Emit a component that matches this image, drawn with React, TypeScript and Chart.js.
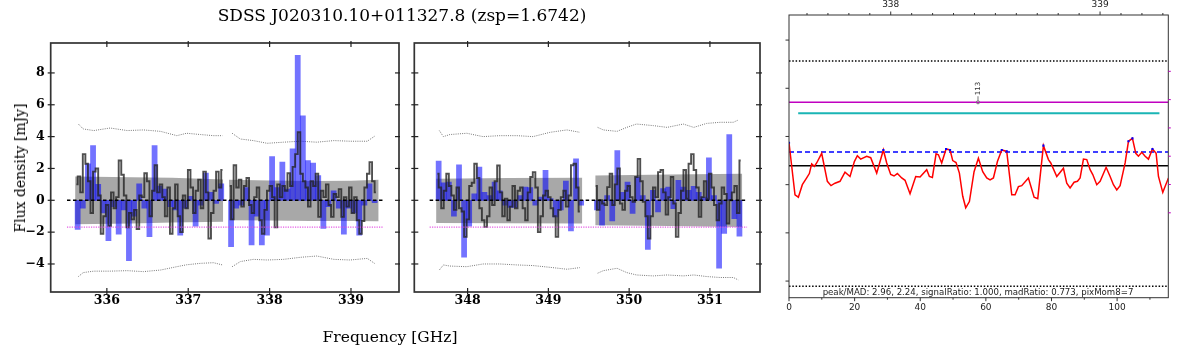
import React, { useEffect, useRef } from 'react';
import { Chart, registerables } from 'chart.js';

Chart.register(...registerables);

// ================= TEXT =================
const TITLE = 'SDSS J020310.10+011327.8 (zsp=1.6742)';
const X_TITLE = 'Frequency [GHz]';
const Y_TITLE = 'Flux density [mJy]';
const STATS_TEXT = 'peak/MAD: 2.96, 2.24, signalRatio: 1.000, madRatio: 0.773, pixMom8=7';
const LINE_ID = '113';

const SERIF = '"DejaVu Serif", serif';
const SANS = '"DejaVu Sans", sans-serif';

// ================= SPECTRA (left & middle panels) =================
const STEP_GHZ = 0.0315; // width of one plotted spectral step
const BIN_GHZ = 0.063; // width of one binned (blue) step

const Y_TICKS = [-4, -2, 0, 2, 4, 6, 8];
const LEFT_X_TICKS = [336, 337, 338, 339];
const MID_X_TICKS = [348, 349, 350, 351];
const ZERO_LEVEL = 0;
const LIMIT_LEVEL = -1.68;
const LEFT_REF_X = [335.51, 339.4];
const MID_REF_X = [347.53, 351.46];

// --- segment A ---
const startA = 335.61;
const grayA = [1.0, 1.5, 0.5, 2.9, 2.3, 1.2, -0.8, 1.8, 2.0, 0.3, -2.1, -1.0, -0.3, -1.6, 0.5, -0.5, 0.2, 2.5, 1.6, 0.3, -1.7, -0.8, -1.2, -0.6, -1.8, 0.3, 0.2, 1.7, 1.2, -1.0, 0.6, 2.2, 0.5, 1.0, 0.2, -1.0, 0.8, -2.1, -0.5, 1.0, -1.0, -2.0, 0.3, -0.5, 1.9, 0.8, -0.8, 0.6, 1.3, -0.5, 1.8, 0.5, -2.4, -0.8, 0.6, 1.8, 0.8, 1.9];
const binsA = [-1.83, -0.5, 2.29, 3.44, 1.0, -0.8, -2.54, -0.4, -2.13, -0.6, -3.79, -1.0, 1.04, -0.5, -2.29, 3.44, 0.9, 0.7, -0.4, -0.6, -2.19, -0.5, 0.25, -1.63, -0.3, 1.71, 0.5, -0.2, 1.04];
const bandFreqA = [335.61, 336.3, 336.8, 337.43];
const bandHiA = [1.5, 1.45, 1.42, 1.3];
const bandLoA = [-1.5, -1.45, -1.4, -1.35];
const envFreqA = [335.65, 335.71, 335.84, 336.04, 336.25, 336.45, 336.66, 336.86, 336.98, 337.15, 337.31, 337.42];
const envHiA = [4.79, 4.48, 4.38, 4.54, 4.38, 4.42, 4.33, 4.06, 4.21, 4.13, 4.06, 4.06];
const envLoA = [-4.79, -4.54, -4.45, -4.45, -4.42, -4.48, -4.38, -4.17, -4.05, -3.96, -3.92, -4.06];

// --- segment B ---
const startB = 337.495;
const grayB = [0.9, -1.2, 2.2, 0.8, 1.3, -0.4, 0.9, 1.4, -0.3, -0.8, 0.2, 0.8, -1.25, -2.1, -0.6, 0.6, 0.9, 0.2, -1.7, 1.0, 0.2, 0.9, 0.6, 1.7, 0.9, 2.1, 2.9, 4.27, 1.67, 1.2, 0.8, -0.4, 1.2, 0.9, 1.67, -1.04, 0.6, 0.2, 1.0, -0.3, -1.04, 0.4, 0.2, 0.7, -1.04, 0.2, -0.4, 0.8, -0.8, 0.2, -1.25, -2.1, -1.3, 0.8, 1.67, 2.4, 1.2, 0.5];
const binsB = [-2.92, -0.5, -0.3, 0.8, -2.81, -1.0, -2.81, -2.19, 2.75, 0.8, 2.4, 0.7, 3.23, 9.1, 5.31, 2.5, 2.33, 1.56, -1.77, -0.4, 0.6, -0.5, -2.13, -0.5, -0.8, -2.19, -0.3, 1.04, -0.15];
const bandFreqB = [337.5, 338.0, 338.5, 339.0, 339.34];
const bandHiB = [1.29, 1.25, 1.21, 1.23, 1.29];
const bandLoB = [-1.25, -1.27, -1.3, -1.3, -1.31];
const envFreqB = [337.54, 337.64, 337.8, 337.97, 338.17, 338.38, 338.58, 338.79, 338.99, 339.2, 339.3];
const envHiB = [4.21, 3.85, 3.75, 3.58, 3.65, 3.71, 3.65, 3.75, 3.71, 3.71, 4.06];
const envLoB = [-4.17, -3.85, -3.71, -3.75, -3.71, -3.58, -3.5, -3.71, -3.75, -3.65, -4.0];

// --- segment C ---
const startC = 347.61;
const grayC = [1.67, 0.8, -0.5, 0.6, 1.67, 0.9, 0.3, -0.6, 0.8, -0.5, -0.7, -2.3, -1.2, 0.9, 1.1, 2.3, 1.4, -0.5, -1.25, -1.67, -1.0, 0.8, -0.3, 1.2, 2.19, 0.5, -1.0, 0.1, -1.25, -0.4, 0.9, -0.5, 0.6, 0.8, -0.5, -1.25, 0.5, 1.46, 1.77, 0.8, -2.0, -1.0, 0.3, 0.6, 0.2, -0.5, -1.0, -2.3, -0.6, 0.2, 0.6, -0.4, 0.3, 2.2, 2.3, 0.8, -0.7];
const binsC = [2.46, 1.1, 1.15, -1.0, 2.23, -3.58, -1.63, 0.4, 2.08, 0.5, 0.3, 1.15, 0.6, -0.3, -0.45, -0.45, 0.3, 0.83, 0.8, -0.3, 0.2, 1.88, 0.1, -1.04, -0.6, 1.2, -1.92, 2.6, -0.3];
const bandFreqC = [347.61, 348.5, 349.42];
const bandHiC = [1.35, 1.4, 1.42];
const bandLoC = [-1.42, -1.44, -1.46];
const envFreqC = [347.65, 347.7, 347.78, 347.99, 348.19, 348.4, 348.61, 348.81, 349.02, 349.23, 349.39];
const envHiC = [4.38, 4.0, 4.13, 4.21, 4.0, 4.06, 4.06, 4.0, 4.27, 4.42, 4.27];
const envLoC = [-4.38, -4.06, -4.13, -4.17, -4.0, -4.0, -4.06, -4.1, -4.21, -4.33, -4.23];

// --- segment D ---
const startD = 349.57;
const grayD = [0.9, -0.6, 0.0, -0.2, -0.3, 0.83, 1.67, -0.3, 1.0, 2.0, -0.2, -0.6, 0.6, 0.9, 0.2, -0.1, 1.46, 2.6, 1.2, -0.1, -1.0, -2.4, -1.0, 0.8, 0.2, 1.77, 1.9, 0.5, -0.9, 0.2, 1.46, -0.2, -2.3, -0.8, 0.6, 1.9, 0.1, 2.3, 2.9, 1.9, 0.8, -1.04, 0.2, 1.2, 0.1, 1.67, 0.8, -0.3, -1.25, -0.2, 0.8, 0.4, -1.46, 0.0, 0.5, 0.9, -0.8, 2.5];
const binsD = [-0.6, -1.56, 0.3, -1.29, 3.13, 0.5, 1.15, -0.83, 1.46, 0.3, -3.08, 0.63, -0.73, 0.73, 0.83, -0.52, 1.25, 0.83, 0.63, 0.88, 0.5, 0.2, 2.67, 0.3, -4.27, -2.08, 4.13, -1.15, -2.25];
const bandFreqD = [349.58, 350.5, 351.4];
const bandHiD = [1.56, 1.62, 1.67];
const bandLoD = [-1.56, -1.62, -1.67];
const envFreqD = [349.61, 349.68, 349.85, 349.97, 350.09, 350.3, 350.47, 350.67, 350.8, 350.96, 351.13, 351.29, 351.35];
const envHiD = [4.58, 4.42, 4.33, 4.58, 4.79, 4.69, 4.58, 4.79, 4.58, 4.83, 4.9, 4.9, 5.04];
const envLoD = [-4.58, -4.42, -4.27, -4.54, -4.69, -4.75, -4.69, -4.75, -4.69, -4.79, -4.85, -4.85, -5.0];

// ================= RIGHT PANEL =================
const redCh = [0, 1.83, 2.85, 4.07, 5.39, 6.2, 6.91, 7.72, 8.43, 9.96, 11.69, 12.8, 14.02, 15.55, 17.07, 18.6, 19.92, 20.83, 21.85, 23.68, 24.9, 26.73, 28.76, 29.78, 31, 32.01, 33.03, 34.35, 35.37, 36.89, 38.62, 39.94, 41.97, 42.78, 43.7, 44.82, 45.53, 46.54, 47.87, 49.09, 49.9, 50.91, 51.93, 52.95, 53.86, 54.98, 56.4, 57.72, 59.04, 60.26, 61.28, 62.3, 63.52, 64.84, 66.36, 67.89, 68.9, 69.92, 70.93, 72.97, 74.7, 75.81, 77.54, 79.07, 79.78, 81.61, 83.64, 84.65, 85.67, 86.89, 87.91, 88.72, 89.74, 90.75, 91.77, 92.58, 93.8, 94.82, 96.65, 97.87, 98.88, 99.9, 100.91, 102.44, 103.46, 104.67, 105.69, 106.5, 107.52, 108.54, 109.55, 110.77, 111.89, 112.6, 113.92, 115.65];
const redVal = [2.87, 1.79, 1.74, 2.0, 2.14, 2.23, 2.43, 2.38, 2.45, 2.65, 2.07, 1.98, 2.03, 2.07, 2.26, 2.17, 2.48, 2.6, 2.53, 2.59, 2.56, 2.24, 2.72, 2.45, 2.21, 2.18, 2.23, 2.14, 2.09, 1.81, 2.17, 2.16, 2.31, 2.17, 2.15, 2.64, 2.62, 2.45, 2.74, 2.72, 2.5, 2.46, 2.24, 1.76, 1.52, 1.65, 2.27, 2.55, 2.27, 2.14, 2.1, 2.14, 2.48, 2.72, 2.69, 1.79, 1.79, 1.96, 1.98, 2.14, 1.74, 1.71, 2.81, 2.52, 2.45, 2.17, 2.34, 2.03, 1.93, 2.05, 2.07, 2.14, 2.53, 2.52, 2.31, 2.21, 2.0, 2.07, 2.36, 2.17, 2.0, 1.89, 1.98, 2.45, 2.9, 2.96, 2.65, 2.59, 2.67, 2.59, 2.53, 2.74, 2.65, 2.17, 1.84, 2.14];
const R_X_MIN = 0;
const R_X_MAX = 115.6;
const R_FREQ_MIN = 337.514;
const R_FREQ_MAX = 339.326;
const R_Y_MIN = -0.345;
const R_Y_MAX = 5.52;
const BLACK_LEVEL = 2.39;
const DASH_LEVEL = 2.68;
const CYAN_LEVEL = 3.48;
const CYAN_X = [2.8, 112.9];
const MAGENTA_LEVEL = 3.71;
const DOT_HI_LEVEL = 4.565;
const DOT_LO_LEVEL = -0.108;
const LINE_ID_CH = 57.6;
const R_X_TICKS = [0, 20, 40, 60, 80, 100];
const R_X_MINOR = [10, 30, 50, 70, 90, 110];
const R_TOP_TICKS = [338, 339];
const R_TOP_MINOR = [337.6, 337.7, 337.8, 337.9, 338.1, 338.2, 338.3, 338.4, 338.5, 338.6, 338.7, 338.8, 338.9, 339.1, 339.2, 339.3];
const R_Y_TICKS = [0, 1, 2, 3, 4, 5];
const R_Y2_TICKS = [3, 4, 5, 6, 7, 8];

// ================= LAYOUT =================
const PLOT_TOP = 43;
const PLOT_BOTTOM = 292;
const CANVAS_H = 350;
const Y_MIN = -5.76;
const Y_MAX = 9.88;

const fmtMinus = (v: number) => (v < 0 ? '\u2212' + Math.abs(v) : String(v));

function seg(ctx: CanvasRenderingContext2D, x1: number, y1: number, x2: number, y2: number) {
  ctx.beginPath();
  ctx.moveTo(x1, y1);
  ctx.lineTo(x2, y2);
  ctx.stroke();
}

const spectrumFrame = {
  id: 'spectrumFrame',
  afterDraw(chart: any) {
    const { ctx, chartArea: a, scales } = chart;
    ctx.save();
    ctx.strokeStyle = '#333';
    ctx.lineWidth = 1.7;
    ctx.strokeRect(a.left, a.top, a.right - a.left, a.bottom - a.top);
    ctx.strokeStyle = '#222';
    ctx.lineWidth = 1.2;
    for (const t of scales.x.ticks) {
      const x = scales.x.getPixelForValue(t.value);
      seg(ctx, x, a.top - 2, x, a.top + 4);
      seg(ctx, x, a.bottom + 2, x, a.bottom - 4);
    }
    for (const t of scales.y.ticks) {
      const y = scales.y.getPixelForValue(t.value);
      seg(ctx, a.left - 3, y, a.left + 4, y);
      seg(ctx, a.right + 2, y, a.right - 4, y);
    }
    ctx.restore();
  },
};

type Segment = {
  start: number; gray: number[]; bins: number[];
  bandF: number[]; bandHi: number[]; bandLo: number[];
  envF: number[]; envHi: number[]; envLo: number[];
};

function spectrumConfig(segments: Segment[], xMin: number, xMax: number, xTicks: number[], refX: number[], showY: boolean, yAxisWidth: number, padRight: number) {
  const datasets: any[] = [];
  datasets.push({
    type: 'line', data: refX.map((x) => ({ x, y: ZERO_LEVEL })),
    borderColor: '#000', borderWidth: 1.5, borderDash: [3.5, 2.5], pointRadius: 0, order: 0,
  });
  datasets.push({
    type: 'line', data: refX.map((x) => ({ x, y: LIMIT_LEVEL })),
    borderColor: 'rgba(225,70,225,0.9)', borderWidth: 1.2, borderDash: [1.2, 1.2], pointRadius: 0, order: 0,
  });
  for (const s of segments) {
    datasets.push({
      type: 'line', data: s.gray.map((y, i) => ({ x: s.start + (i + 0.5) * STEP_GHZ, y })),
      stepped: 'middle', borderColor: 'rgba(35,35,35,0.8)', borderWidth: 1.9, pointRadius: 0, order: 1,
    });
    datasets.push({
      type: 'bar', data: s.bins.map((y, k) => ({ x: s.start + (k + 0.5) * BIN_GHZ, y })),
      backgroundColor: 'rgba(0,0,255,0.55)', borderWidth: 0, barPercentage: 1, categoryPercentage: 1,
      grouped: false, order: 3,
    });
    datasets.push({
      type: 'line', data: s.envF.map((x, i) => ({ x, y: s.envHi[i] })),
      borderColor: '#777', borderWidth: 1, borderDash: [1, 1.2], pointRadius: 0, order: 4,
    });
    datasets.push({
      type: 'line', data: s.envF.map((x, i) => ({ x, y: s.envLo[i] })),
      borderColor: '#777', borderWidth: 1, borderDash: [1, 1.2], pointRadius: 0, order: 4,
    });
    datasets.push({
      type: 'line', data: s.bandF.map((x, i) => ({ x, y: s.bandHi[i] })),
      borderColor: 'rgba(0,0,0,0)', borderWidth: 0, pointRadius: 0, fill: '+1',
      backgroundColor: 'rgba(110,110,110,0.6)', order: 5,
    });
    datasets.push({
      type: 'line', data: s.bandF.map((x, i) => ({ x, y: s.bandLo[i] })),
      borderColor: 'rgba(0,0,0,0)', borderWidth: 0, pointRadius: 0, fill: false, order: 5,
    });
  }
  return {
    type: 'line',
    data: { datasets },
    options: {
      responsive: false, animation: false, devicePixelRatio: 1,
      layout: { padding: { left: 0, right: padRight, top: PLOT_TOP, bottom: 0 } },
      plugins: { legend: { display: false }, tooltip: { enabled: false }, title: { display: false } },
      scales: {
        x: {
          type: 'linear', min: xMin, max: xMax, offset: false,
          grid: { display: false, drawTicks: false }, border: { display: false },
          ticks: { font: { family: SERIF, size: 12.5, weight: 'bold' }, color: '#000', padding: 1.5, maxRotation: 0, autoSkip: false },
          afterBuildTicks: (sc: any) => { sc.ticks = xTicks.map((v) => ({ value: v })); },
          afterFit: (sc: any) => { sc.height = CANVAS_H - PLOT_BOTTOM; },
        },
        y: {
          type: 'linear', min: Y_MIN, max: Y_MAX,
          grid: { display: false, drawTicks: false }, border: { display: false },
          ticks: { display: showY, font: { family: SERIF, size: 12.5, weight: 'bold' }, color: '#000', padding: 6, callback: (v: any) => fmtMinus(Number(v)) },
          afterBuildTicks: (sc: any) => { sc.ticks = Y_TICKS.map((v) => ({ value: v })); },
          afterFit: (sc: any) => { sc.width = yAxisWidth; },
        },
      },
    },
    plugins: [spectrumFrame],
  };
}

const rightDecor = {
  id: 'rightDecor',
  afterDraw(chart: any) {
    const { ctx, chartArea: a, scales } = chart;
    ctx.save();
    ctx.strokeStyle = '#333';
    ctx.lineWidth = 1;
    ctx.strokeRect(a.left, a.top, a.right - a.left, a.bottom - a.top);
    for (const v of R_Y_TICKS) { const y = scales.y.getPixelForValue(v); seg(ctx, a.left - 3.5, y, a.left, y); }
    for (const v of R_X_TICKS) { const x = scales.x.getPixelForValue(v); seg(ctx, x, a.bottom, x, a.bottom + 3.5); }
    for (const v of R_X_MINOR) { const x = scales.x.getPixelForValue(v); seg(ctx, x, a.bottom, x, a.bottom + 2); }
    for (const v of R_TOP_TICKS) { const x = scales.x2.getPixelForValue(v); seg(ctx, x, a.top - 3.5, x, a.top); }
    for (const v of R_TOP_MINOR) { const x = scales.x2.getPixelForValue(v); seg(ctx, x, a.top - 2, x, a.top); }
    ctx.strokeStyle = '#c000c0';
    for (const v of R_Y2_TICKS) { const y = scales.y2.getPixelForValue(v); seg(ctx, a.right, y, a.right + 2.5, y); }
    const lx = scales.x.getPixelForValue(LINE_ID_CH);
    const ly = scales.y.getPixelForValue(MAGENTA_LEVEL);
    ctx.strokeStyle = '#777';
    ctx.beginPath(); ctx.arc(lx, ly, 1.6, 0, Math.PI * 2); ctx.stroke();
    seg(ctx, lx, ly - 2, lx, ly - 6);
    ctx.translate(lx, ly - 7);
    ctx.rotate(-Math.PI / 2);
    ctx.font = `7px ${SANS}`;
    ctx.fillStyle = '#333';
    ctx.textAlign = 'left';
    ctx.textBaseline = 'middle';
    ctx.fillText(LINE_ID, 0, 0);
    ctx.restore();
  },
};

function rightConfig() {
  const pts = redCh.map((x, i) => ({ x, y: redVal[i] }));
  const hline = (y: number, x0 = R_X_MIN, x1 = R_X_MAX) => [{ x: x0, y }, { x: x1, y }];
  const datasets: any[] = [
    { type: 'line', data: pts.filter((p) => p.y > DASH_LEVEL), showLine: false, pointStyle: 'rect', pointRadius: 1.5, pointBackgroundColor: '#0000ff', pointBorderWidth: 0, order: 0 },
    { type: 'line', data: pts, borderColor: '#ff0000', borderWidth: 1.5, pointRadius: 0, order: 1 },
    { type: 'line', data: hline(BLACK_LEVEL), borderColor: '#000', borderWidth: 1.5, pointRadius: 0, order: 2 },
    { type: 'line', data: hline(DASH_LEVEL), borderColor: '#0000ff', borderWidth: 1.5, borderDash: [5, 3], pointRadius: 0, order: 2 },
    { type: 'line', data: hline(CYAN_LEVEL, CYAN_X[0], CYAN_X[1]), borderColor: '#1ab5b5', borderWidth: 2, pointRadius: 0, order: 2 },
    { type: 'line', data: hline(MAGENTA_LEVEL), borderColor: '#c000c0', borderWidth: 1.6, pointRadius: 0, order: 2 },
    { type: 'line', data: hline(DOT_HI_LEVEL), borderColor: '#000', borderWidth: 1.5, borderDash: [1.5, 1.8], pointRadius: 0, order: 2 },
    { type: 'line', data: hline(DOT_LO_LEVEL), borderColor: '#000', borderWidth: 1.5, borderDash: [1.5, 1.8], pointRadius: 0, order: 2 },
  ];
  const tickFont = { family: SANS, size: 9 };
  return {
    type: 'line',
    data: { datasets },
    options: {
      responsive: false, animation: false, devicePixelRatio: 1,
      layout: { padding: { left: 0, right: 31.7, top: 0, bottom: 0 } },
      plugins: { legend: { display: false }, tooltip: { enabled: false } },
      scales: {
        x: {
          type: 'linear', position: 'bottom', min: R_X_MIN, max: R_X_MAX, offset: false,
          grid: { display: false, drawTicks: false }, border: { display: false },
          ticks: { font: tickFont, color: '#222', padding: 4.5, maxRotation: 0, autoSkip: false },
          afterBuildTicks: (sc: any) => { sc.ticks = R_X_TICKS.map((v) => ({ value: v })); },
          afterFit: (sc: any) => { sc.height = 52.3; },
        },
        x2: {
          type: 'linear', position: 'top', min: R_FREQ_MIN, max: R_FREQ_MAX, offset: false,
          grid: { display: false, drawTicks: false }, border: { display: false },
          ticks: { font: tickFont, color: '#222', padding: 4.5, maxRotation: 0, autoSkip: false },
          afterBuildTicks: (sc: any) => { sc.ticks = R_TOP_TICKS.map((v) => ({ value: v })); },
          afterFit: (sc: any) => { sc.height = 15; },
        },
        y: {
          type: 'linear', position: 'left', min: R_Y_MIN, max: R_Y_MAX,
          grid: { display: false, drawTicks: false }, border: { display: false },
          ticks: { display: false },
          afterBuildTicks: (sc: any) => { sc.ticks = R_Y_TICKS.map((v) => ({ value: v })); },
          afterFit: (sc: any) => { sc.width = 19; },
        },
        y2: {
          type: 'linear', position: 'right', min: 0, max: 9.99,
          grid: { display: false, drawTicks: false }, border: { display: false },
          ticks: { display: false },
          afterFit: (sc: any) => { sc.width = 0; },
        },
      },
    },
    plugins: [rightDecor],
  };
}

const segA: Segment = { start: startA, gray: grayA, bins: binsA, bandF: bandFreqA, bandHi: bandHiA, bandLo: bandLoA, envF: envFreqA, envHi: envHiA, envLo: envLoA };
const segB: Segment = { start: startB, gray: grayB, bins: binsB, bandF: bandFreqB, bandHi: bandHiB, bandLo: bandLoB, envF: envFreqB, envHi: envHiB, envLo: envLoB };
const segC: Segment = { start: startC, gray: grayC, bins: binsC, bandF: bandFreqC, bandHi: bandHiC, bandLo: bandLoC, envF: envFreqC, envHi: envHiC, envLo: envLoC };
const segD: Segment = { start: startD, gray: grayD, bins: binsD, bandF: bandFreqD, bandHi: bandHiD, bandLo: bandLoD, envF: envFreqD, envHi: envHiD, envLo: envLoD };

function ChartBox({ left, width, make }: { left: number; width: number; make: () => any }) {
  const ref = useRef<HTMLCanvasElement>(null);
  useEffect(() => {
    const chart = new Chart(ref.current as HTMLCanvasElement, make());
    return () => chart.destroy();
  }, []);
  return (
    <div style={{ position: 'absolute', left, top: 0, width, height: CANVAS_H }}>
      <canvas ref={ref} width={width} height={CANVAS_H} style={{ width, height: CANVAS_H, display: 'block' }} />
    </div>
  );
}

const textBase: React.CSSProperties = { position: 'absolute', whiteSpace: 'nowrap', pointerEvents: 'none', color: '#000', lineHeight: 1 };

export default function App() {
  return (
    <div style={{ position: 'fixed', left: 0, top: 0, width: 1200, height: 350, background: '#fff', overflow: 'hidden' }}>
      <ChartBox left={0} width={400} make={() => spectrumConfig([segA, segB], 335.31, 339.59, LEFT_X_TICKS, LEFT_REF_X, true, 50.7, 1)} />
      <ChartBox left={400} width={370} make={() => spectrumConfig([segC, segD], 347.34, 351.62, MID_X_TICKS, MID_REF_X, false, 14.3, 10)} />
      <ChartBox left={770} width={430} make={rightConfig} />
      <div style={{ ...textBase, left: 402, top: 15, transform: 'translate(-50%,-50%)', fontFamily: SERIF, fontSize: 17 }}>{TITLE}</div>
      <div style={{ ...textBase, left: 390, top: 338, transform: 'translate(-50%,-50%)', fontFamily: SERIF, fontSize: 15.5 }}>{X_TITLE}</div>
      <div style={{ ...textBase, left: 20, top: 168, transform: 'translate(-50%,-50%) rotate(-90deg)', fontFamily: SERIF, fontSize: 14 }}>{Y_TITLE}</div>
      <div style={{ ...textBase, left: 978, top: 291.5, transform: 'translate(-50%,-50%)', fontFamily: SANS, fontSize: 8.6, color: '#222' }}>{STATS_TEXT}</div>
    </div>
  );
}
